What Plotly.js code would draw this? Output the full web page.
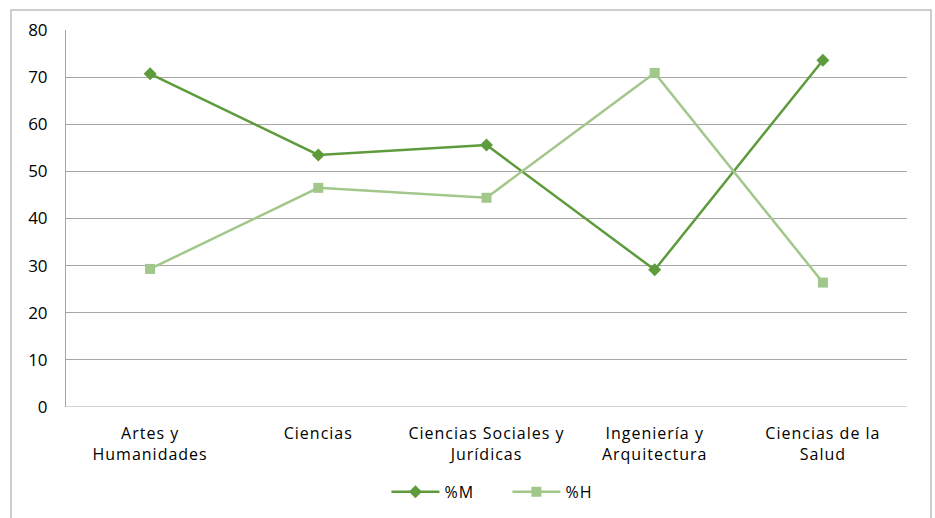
<!DOCTYPE html>
<html>
<head>
<meta charset="utf-8">
<script src="https://cdn.plot.ly/plotly-3.0.1.min.js"></script>
<style>html,body{margin:0;padding:0;background:#fff;}#chart{width:935px;height:518px;}
.xtick text, .legendtext {letter-spacing: 1px;}</style>
</head>
<body>
<div id="chart"></div>
<script>
const categories = ["Artes y<br>Humanidades", "Ciencias", "Ciencias Sociales y<br>Jurídicas", "Ingeniería y<br>Arquitectura", "Ciencias de la<br>Salud"];
const seriesM = [70.7, 53.5, 55.6, 29.1, 73.6];
const seriesH = [29.3, 46.5, 44.4, 70.9, 26.4];
const yTicks = [0, 10, 20, 30, 40, 50, 60, 70, 80];

const font = "'Open Sans', sans-serif";
const traces = [
  {x: categories, y: seriesM, name: "%M", type: "scatter", mode: "lines+markers",
   line: {color: "#5E9B3D", width: 2.5}, marker: {symbol: "diamond", size: 10, color: "#5E9B3D"}},
  {x: categories, y: seriesH, name: "%H", type: "scatter", mode: "lines+markers",
   line: {color: "#A2C78B", width: 2.5}, marker: {symbol: "square", size: 10, color: "#A2C78B"}}
];
const layout = {
  width: 935, height: 518,
  margin: {l: 66, r: 28, t: 30, b: 111, autoexpand: false},
  paper_bgcolor: "#fff", plot_bgcolor: "#fff",
  font: {family: font, size: 16, color: "#000"},
  showlegend: true,
  legend: {orientation: "h", x: 0.381, xanchor: "left", y: -0.225, yanchor: "middle",
           itemwidth: 48, entrywidth: 58, entrywidthmode: "pixels",
           font: {family: font, size: 16, color: "#000"}, tracegroupgap: 0},
  xaxis: {type: "category", range: [-0.5, 4.5], showgrid: false, zeroline: false, automargin: false,
          showline: false, ticks: "", ticklabelstandoff: 15, tickfont: {family: font, size: 16}},
  yaxis: {range: [0, 80], tickvals: yTicks, ticktext: yTicks.map(String), showgrid: true, automargin: false,
          gridcolor: "#a6a6a6", gridwidth: 1, zeroline: false, showline: true,
          linecolor: "#a6a6a6", linewidth: 1, ticks: "", ticklabelstandoff: 14,
          tickfont: {family: font, size: 17}},
  shapes: [
    {type: "line", xref: "paper", yref: "y", x0: 0, x1: 1, y0: 0, y1: 0, line: {color: "#a6a6a6", width: 1}},
    {type: "rect", xref: "paper", yref: "paper", x0: -0.0654, x1: 1.0285, y0: -0.31, y1: 1.053,
     line: {color: "#bfbfbf", width: 1.5}, fillcolor: "rgba(0,0,0,0)", layer: "below"}
  ]
};
Plotly.newPlot("chart", traces, layout, {displayModeBar: false, staticPlot: true});
</script>
</body>
</html>
